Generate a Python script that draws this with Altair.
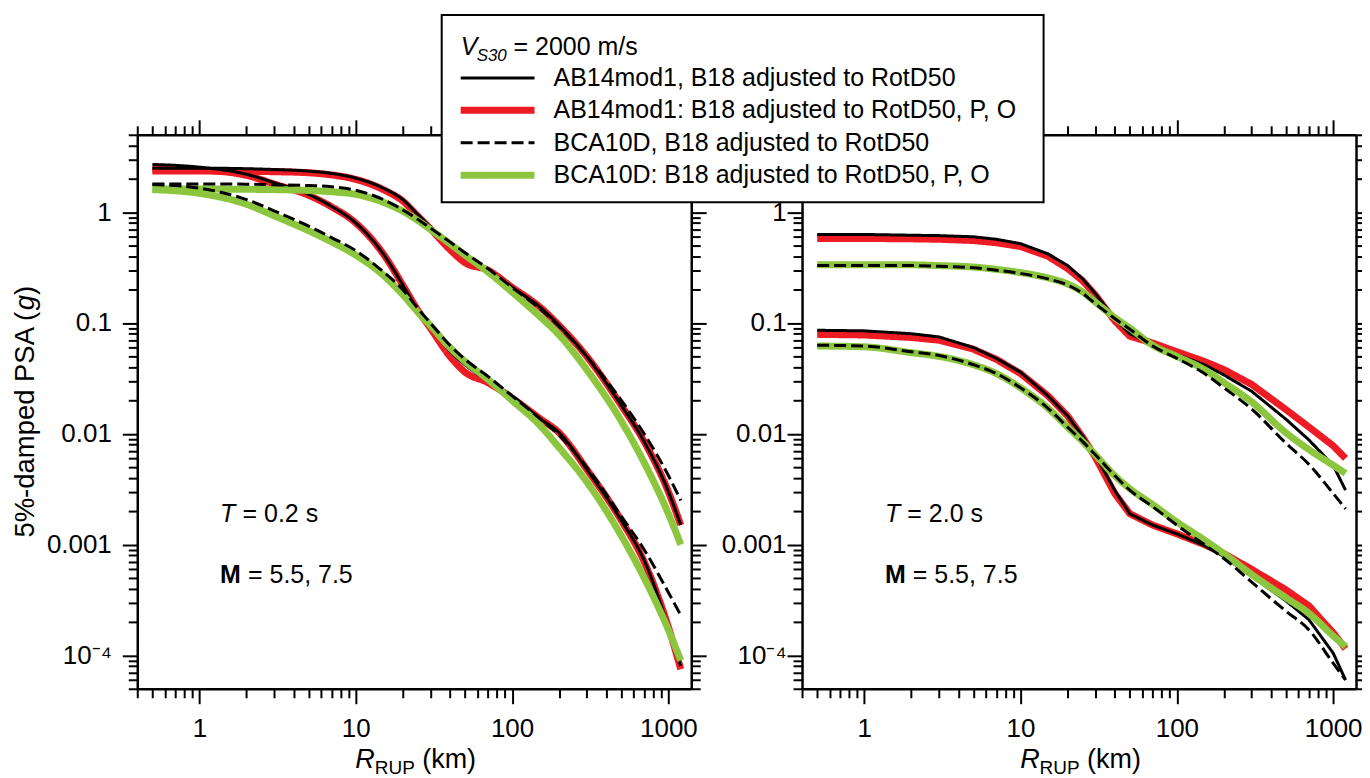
import altair as alt
import pandas as pd

FONT = "Liberation Sans"

# ---------------- data ----------------
R_KM = [0.5, 1, 2, 3, 5, 7, 10, 15, 20, 25, 30, 40, 50, 70, 100, 150, 200, 300, 500, 700, 1000, 1200]

# T = 0.2 s
T02_M75_AB14 = [2.5, 2.5, 2.47, 2.43, 2.35, 2.24, 2.03, 1.65, 1.3, 0.95, 0.74, 0.52, 0.41, 0.3, 0.21, 0.14, 0.095, 0.05, 0.018, 0.0085, 0.003, 0.0015]
T02_M75_AB14_PO = [2.35, 2.35, 2.34, 2.32, 2.27, 2.17, 1.98, 1.6, 1.26, 0.92, 0.71, 0.46, 0.35, 0.3, 0.21, 0.14, 0.095, 0.05, 0.018, 0.0085, 0.003, 0.0015]
T02_M75_BCA = [1.8, 1.8, 1.79, 1.77, 1.74, 1.7, 1.58, 1.3, 1.05, 0.86, 0.72, 0.54, 0.43, 0.31, 0.21, 0.135, 0.093, 0.05, 0.02, 0.01, 0.0042, 0.0025]
T02_M75_BCA_PO = [1.62, 1.62, 1.61, 1.6, 1.57, 1.53, 1.45, 1.23, 1.02, 0.84, 0.7, 0.52, 0.41, 0.29, 0.19, 0.115, 0.078, 0.038, 0.013, 0.0055, 0.0019, 0.001]
T02_M55_AB14 = [2.7, 2.55, 2.2, 1.85, 1.45, 1.13, 0.8, 0.42, 0.22, 0.13, 0.095, 0.056, 0.042, 0.03, 0.022, 0.0138, 0.0102, 0.0048, 0.00165, 0.00072, 0.00018, 0.00008]
T02_M55_AB14_PO = [2.45, 2.4, 2.15, 1.8, 1.42, 1.12, 0.8, 0.42, 0.22, 0.13, 0.09, 0.05, 0.036, 0.029, 0.021, 0.0138, 0.0102, 0.0048, 0.00165, 0.0007, 0.00018, 0.000075]
T02_M55_BCA = [1.78, 1.65, 1.3, 1.03, 0.75, 0.59, 0.45, 0.29, 0.2, 0.135, 0.1, 0.063, 0.047, 0.033, 0.022, 0.0138, 0.0097, 0.005, 0.0018, 0.0009, 0.00037, 0.00023]
T02_M55_BCA_PO = [1.6, 1.48, 1.18, 0.93, 0.68, 0.54, 0.41, 0.27, 0.18, 0.125, 0.095, 0.06, 0.045, 0.031, 0.02, 0.012, 0.0075, 0.0037, 0.0012, 0.0005, 0.00017, 0.00009]

# T = 2.0 s
T20_M75_AB14 = [0.63, 0.63, 0.62, 0.615, 0.6, 0.57, 0.52, 0.42, 0.33, 0.25, 0.185, 0.11, 0.08, 0.064, 0.052, 0.042, 0.034, 0.0243, 0.0135, 0.0088, 0.0052, 0.0031]
T20_M75_AB14_PO = [0.58, 0.58, 0.575, 0.57, 0.555, 0.53, 0.49, 0.4, 0.31, 0.24, 0.18, 0.105, 0.076, 0.066, 0.055, 0.045, 0.038, 0.028, 0.0165, 0.0115, 0.0078, 0.006]
T20_M75_BCA = [0.33, 0.33, 0.33, 0.325, 0.315, 0.3, 0.28, 0.25, 0.22, 0.185, 0.15, 0.11, 0.088, 0.062, 0.048, 0.035, 0.026, 0.0168, 0.0082, 0.0053, 0.0029, 0.0021]
T20_M75_BCA_PO = [0.335, 0.335, 0.335, 0.33, 0.32, 0.305, 0.285, 0.255, 0.225, 0.19, 0.155, 0.112, 0.09, 0.063, 0.05, 0.038, 0.029, 0.0195, 0.0102, 0.0072, 0.0052, 0.0044]
T20_M55_AB14 = [0.086, 0.085, 0.08, 0.075, 0.06, 0.048, 0.036, 0.022, 0.0145, 0.0095, 0.0065, 0.0031, 0.0019, 0.0015, 0.00125, 0.00098, 0.00078, 0.00052, 0.00031, 0.00021, 0.000105, 0.00006]
T20_M55_AB14_PO = [0.079, 0.078, 0.074, 0.07, 0.058, 0.047, 0.035, 0.022, 0.0145, 0.0093, 0.0062, 0.0029, 0.0019, 0.0015, 0.00125, 0.001, 0.00083, 0.0006, 0.00039, 0.00028, 0.00016, 0.000115]
T20_M55_BCA = [0.063, 0.062, 0.055, 0.051, 0.042, 0.035, 0.026, 0.017, 0.0115, 0.0085, 0.0065, 0.0042, 0.0031, 0.0022, 0.0015, 0.001, 0.00075, 0.00046, 0.00025, 0.00017, 0.000085, 0.00006]
T20_M55_BCA_PO = [0.062, 0.061, 0.054, 0.05, 0.042, 0.035, 0.026, 0.017, 0.0115, 0.0085, 0.0065, 0.0042, 0.0032, 0.0023, 0.0016, 0.0011, 0.00083, 0.00054, 0.00033, 0.00024, 0.00015, 0.00012]

SERIES = [
    "AB14mod1, B18 adjusted to RotD50",
    "AB14mod1: B18 adjusted to RotD50, P, O",
    "BCA10D, B18 adjusted to RotD50",
    "BCA10D: B18 adjusted to RotD50, P, O",
]
COLORS = ["#000000", "#ED1C24", "#000000", "#8CC63F"]
WIDTHS = [3, 7, 3, 7]
DASHES = [[1, 0], [1, 0], [12, 5], [1, 0]]
DRAW_ORDER = [1, 0, 3, 2]

LEFT_CURVES = {
    0: {"7.5": T02_M75_AB14, "5.5": T02_M55_AB14},
    1: {"7.5": T02_M75_AB14_PO, "5.5": T02_M55_AB14_PO},
    2: {"7.5": T02_M75_BCA, "5.5": T02_M55_BCA},
    3: {"7.5": T02_M75_BCA_PO, "5.5": T02_M55_BCA_PO},
}
RIGHT_CURVES = {
    0: {"7.5": T20_M75_AB14, "5.5": T20_M55_AB14},
    1: {"7.5": T20_M75_AB14_PO, "5.5": T20_M55_AB14_PO},
    2: {"7.5": T20_M75_BCA, "5.5": T20_M55_BCA},
    3: {"7.5": T20_M75_BCA_PO, "5.5": T20_M55_BCA_PO},
}
LEFT_INTERP = ["monotone", "monotone", "monotone", "monotone"]
RIGHT_INTERP = ["linear", "linear", "monotone", "monotone"]

PERIOD_TEXT = ["= 0.2 s", "= 2.0 s"]
MAG_TEXT = "= 5.5, 7.5"
LEGEND_TITLE = ["V", "S30", "= 2000 m/s"]
XTITLE = ["R", "RUP", "(km)"]
YTITLE = ["5%-damped PSA (", "g", ")"]

X_DOMAIN = [0.4, 1400]
Y_DOMAIN = [5e-5, 5]
X_TICKS = [round(m * 10.0 ** e, 6) for e in range(-1, 3) for m in range(1, 10) if m * 10.0 ** e >= 0.4] + [1000]
Y_TICKS = [round(m * 10.0 ** e, 10) for e in range(-5, 1) for m in range(1, 10)
           if 5e-5 - 1e-12 <= m * 10.0 ** e <= 5 + 1e-9]
X_MAJOR = "[1,10,100,1000]"
Y_MAJOR = "[0.0001,0.001,0.01,0.1,1]"

W = 555
H = 555


def make_axis(orient, ticks, major, label_expr=None, pad=10):
    kw = dict(
        orient=orient, values=ticks, title=None, grid=False,
        domain=True, domainColor="black", domainWidth=2.5,
        ticks=True, tickColor="black", tickWidth=2,
        tickSize={"condition": {"test": f"indexof({major}, datum.value) >= 0", "value": 15}, "value": 9},
    )
    if label_expr:
        kw.update(labels=True, labelExpr=label_expr, labelFont=FONT, labelFontSize=26,
                  labelColor="black", labelPadding=pad, labelOverlap=False,
                  labelFlush=False, labelBound=False)
    else:
        kw.update(labels=False)
    return alt.Axis(**kw)


X_LABELS = ("datum.value == 1 ? '1' : datum.value == 10 ? '10' : datum.value == 100 ? '100' : "
            "datum.value == 1000 ? '1000' : ''")
Y_LABELS = ("datum.value == 1 ? '1' : datum.value == 0.1 ? '0.1' : datum.value == 0.01 ? '0.01' : "
            "datum.value == 0.001 ? '0.001' : datum.value == 0.0001 ? '10\u207b\u2074' : ''")


def txt(s, x, y, size=26, style="normal", weight="normal", angle=0, align="left", baseline="alphabetic"):
    return alt.Chart(pd.DataFrame({"t": [s]})).mark_text(
        font=FONT, fontSize=size, fontStyle=style, fontWeight=weight, angle=angle,
        align=align, baseline=baseline, color="black"
    ).encode(x=alt.value(x), y=alt.value(y), text="t:N")


def panel(curves, interp, period_text, with_ytitle, with_legend, ypad):
    xs = alt.Scale(type="log", domain=X_DOMAIN, nice=False)
    ys = alt.Scale(type="log", domain=Y_DOMAIN, nice=False)
    layers = []
    for si in DRAW_ORDER:
        rows = []
        for mag, vals in curves[si].items():
            for r, v in zip(R_KM, vals):
                rows.append({"R": r, "psa": v, "mag": mag})
        df = pd.DataFrame(rows)
        layers.append(
            alt.Chart(df).mark_line(
                color=COLORS[si], strokeWidth=WIDTHS[si], strokeDash=DASHES[si],
                interpolate=interp[si], clip=False
            ).encode(
                x=alt.X("R:Q", scale=xs, axis=None),
                y=alt.Y("psa:Q", scale=ys, axis=None),
                detail="mag:N",
                order="R:Q",
            )
        )
    frame = pd.DataFrame({"R": X_DOMAIN, "psa": Y_DOMAIN})
    layers.append(
        alt.Chart(frame).mark_point(opacity=0).encode(
            x=alt.X("R:Q", scale=xs, axis=make_axis("bottom", X_TICKS, X_MAJOR, X_LABELS, pad=12)),
            y=alt.Y("psa:Q", scale=ys, axis=make_axis("left", Y_TICKS, Y_MAJOR, Y_LABELS, pad=ypad)),
        )
    )
    layers.append(
        alt.Chart(frame).mark_point(opacity=0).encode(
            x=alt.X("R:Q", scale=xs, axis=make_axis("top", X_TICKS, X_MAJOR)),
            y=alt.Y("psa:Q", scale=ys, axis=make_axis("right", Y_TICKS, Y_MAJOR)),
        )
    )
    # annotations
    layers.append(txt("T", 83, 388, size=25, style="italic"))
    layers.append(txt(period_text, 83 + 22.5, 388, size=25))
    layers.append(txt("M", 83, 449, size=25, weight="bold"))
    layers.append(txt(MAG_TEXT, 83 + 28, 449, size=25))
    # x-axis title: R_RUP (km)
    x0 = W / 2 - 59
    layers.append(txt(XTITLE[0], x0, 634, size=27, style="italic"))
    layers.append(txt(XTITLE[1], x0 + 19.5, 640.5, size=19))
    layers.append(txt(XTITLE[2], x0 + 67, 634, size=27))
    if with_ytitle:
        fs = 27.5
        y0 = H / 2 + 126
        layers.append(txt(YTITLE[0], -103, y0, size=fs, angle=270))
        layers.append(txt(YTITLE[1], -103, y0 - 227.7, size=fs, angle=270, style="italic"))
        layers.append(txt(YTITLE[2], -103, y0 - 243.0, size=fs, angle=270))
    if with_legend:
        bx0, bx1, by0, by1 = -361, 242, -120, 67.5
        layers.append(
            alt.Chart(pd.DataFrame({"k": [0]})).mark_rect(fill="white", stroke="black", strokeWidth=2).encode(
                x=alt.value(bx0), x2=alt.value(bx1), y=alt.value(by0), y2=alt.value(by1)
            )
        )
        layers.append(txt(LEGEND_TITLE[0], -342, -80, size=25, style="italic"))
        layers.append(txt(LEGEND_TITLE[1], -326, -74, size=17, style="italic"))
        layers.append(txt(LEGEND_TITLE[2], -289, -80, size=25))
        row_y = [-57, -24.5, 8, 40.5]
        for i, s in enumerate(SERIES):
            layers.append(
                alt.Chart(pd.DataFrame({"k": [i]})).mark_rule(
                    color=COLORS[i], strokeWidth=WIDTHS[i], strokeDash=DASHES[i]
                ).encode(x=alt.value(-342), x2=alt.value(-268), y=alt.value(row_y[i]))
            )
            layers.append(txt(s, -249, row_y[i], size=25, baseline="middle"))
    return alt.layer(*layers).resolve_axis(x="independent", y="independent").properties(width=W, height=H)


left = panel(LEFT_CURVES, LEFT_INTERP, PERIOD_TEXT[0], True, False, 11)
right = panel(RIGHT_CURVES, RIGHT_INTERP, PERIOD_TEXT[1], False, True, 1)

chart = alt.hconcat(left, right, spacing=111, bounds="flush").properties(
    padding={"left": 3.5, "top": 4.3, "right": -11, "bottom": 0}
).configure_view(stroke=None).configure(background="white")

chart.save("out.html", embed_options={"renderer": "svg", "actions": False})
